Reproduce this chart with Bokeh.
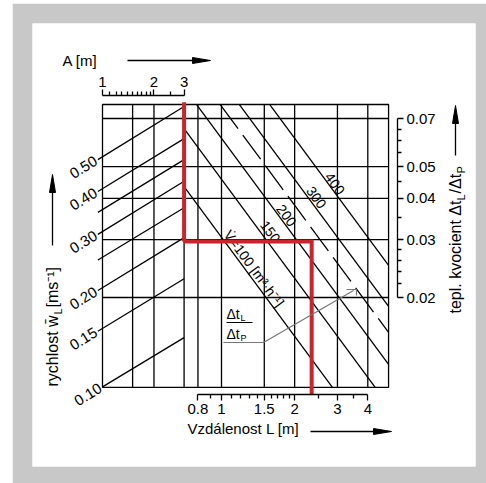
import math
from bokeh.plotting import figure
from bokeh.models import (Range1d, LogScale, LogAxis, FixedTicker,
                          CustomJSTickFormatter)
from bokeh.embed import file_html
from bokeh.resources import INLINE
from bokeh.core.properties import value

# ---------------- data ----------------
A_ticks = [1, 2, 3]
A_minor = [1.1, 1.2, 1.3, 1.4, 1.5, 1.6, 1.7, 1.8, 1.9, 2.5]
L_ticks = [0.8, 1, 1.5, 2, 3, 4]
L_minor = [0.9, 1.1, 1.2, 1.3, 1.4, 1.6, 1.7, 1.8, 1.9, 2.5, 3.5]
ratio_ticks = [0.02, 0.03, 0.04, 0.05, 0.07]
ratio_minor = [0.022, 0.024, 0.026, 0.028, 0.035, 0.045, 0.055, 0.06, 0.065]

A_grid = [1.5, 2, 3]
L_grid = [0.8, 1, 1.5, 2, 3, 4]
ratio_grid = [0.02, 0.03, 0.04, 0.05, 0.07]
box_A_left = 1.0
box_L_right = 4.87
box_ratio_bottom = 0.01066
box_ratio_top = 0.0772

# velocity lines w_L [m/s] (left panel): A from start to 3, ratio at both ends
w_labels = ["0.10", "0.15", "0.20", "", "0.30", "", "0.40", "0.50"]
w_A_start = [1.0, 0.94, 0.94, 0.94, 0.94, 0.94, 0.94, 0.94]
w_R_start = [0.0107, 0.0158, 0.0210, 0.0260, 0.0311, 0.0363, 0.0420, 0.0525]
w_A_end = [3, 3, 3, 3, 3, 3, 3, 3]
w_R_end = [0.0151, 0.0228, 0.0304, 0.0375, 0.0451, 0.0525, 0.0608, 0.0761]

# flow lines V [m3/h] (right panel), end points in L / ratio
V_vals = [100, 150, 200, 300, 400]
V_L0 = [0.704, 0.704, 0.790, 1.185, 1.580]
V_R0 = [0.0433, 0.0650, 0.0772, 0.0772, 0.0772]
V_L1 = [2.861, 4.29, 4.87, 4.87, 4.87]
V_R1 = [0.01066, 0.01066, 0.01253, 0.01879, 0.02505]
V_text = ["V\u0307=100 [m\u00b3\u00b7h\u207b\u00b9]", "150", "200", "300", "400"]
V_lab_L = [1.361, 1.590, 1.851, 2.459, 2.93]
V_lab_R = [0.0245, 0.0317, 0.0355, 0.0403, 0.0444]
# intermediate (dashed) flow line
Vd_vals = [250]
Vd_L0 = [0.988]
Vd_R0 = [0.0772]
Vd_L1 = [4.87]
Vd_R1 = [0.01566]

# worked example (red)
ex_A = 3
ex_ratio = 0.0296
ex_L = 2.35
ex_ratio_top = 0.0784
ex_ratio_bottom = 0.0101

# ---------------- layout calibration (page pixels) ----------------
def Lpx(x):
    return 10 ** ((x - 221) / 243)

def Apx(x):
    return 10 ** ((x - 102) / 171)

def Rpx(y):
    return 0.02 * 10 ** ((297 - y) / 329)

def L_of_A(a):
    return Lpx(102 + 171 * math.log10(a))

FONT = value("Liberation Sans")
RED = "#c9252c"

p = figure(width=474, height=480, x_axis_type="log", y_axis_type="log",
           x_range=Range1d(Lpx(32), Lpx(475)), y_range=Range1d(Rpx(466), Rpx(23)),
           x_axis_location=None, y_axis_location=None,
           toolbar_location=None, output_backend="svg",
           min_border_left=20, min_border_right=11, min_border_top=20, min_border_bottom=17)
p.margin = (3, 0, 0, 12)
p.extra_x_ranges = {"A": Range1d(Apx(32), Apx(475))}
p.extra_x_scales = {"A": LogScale()}
p.background_fill_color = "white"
p.border_fill_color = "#c8c8c8"
p.outline_line_color = None
p.xgrid.visible = False
p.ygrid.visible = False

LW = 1.3
# box + grid
p.quad(left=[L_of_A(box_A_left)], right=[box_L_right], bottom=[box_ratio_bottom],
       top=[box_ratio_top], fill_color=None, line_color="black", line_width=LW)
p.segment(x0=[L_of_A(box_A_left)] * len(ratio_grid), x1=[box_L_right] * len(ratio_grid),
          y0=ratio_grid, y1=ratio_grid, line_color="black", line_width=LW)
p.segment(x0=A_grid, x1=A_grid, y0=[box_ratio_bottom] * len(A_grid),
          y1=[box_ratio_top] * len(A_grid), line_color="black", line_width=LW,
          x_range_name="A")
p.segment(x0=L_grid, x1=L_grid, y0=[box_ratio_bottom] * len(L_grid),
          y1=[box_ratio_top] * len(L_grid), line_color="black", line_width=LW)

# velocity lines
p.segment(x0=w_A_start, y0=w_R_start, x1=w_A_end, y1=w_R_end, line_color="black",
          line_width=LW, x_range_name="A")
p.text(x=w_A_start, y=w_R_start, text=w_labels, angle=0.555, text_align="right",
       text_baseline="middle", x_offset=-2, text_font=FONT, text_font_size="15px",
       text_color="black", x_range_name="A")

# flow lines
p.segment(x0=V_L0, y0=V_R0, x1=V_L1, y1=V_R1, line_color="black", line_width=LW)
p.segment(x0=Vd_L0, y0=Vd_R0, x1=Vd_L1, y1=Vd_R1, line_color="black", line_width=LW,
          line_dash="30 8")
p.text(x=V_lab_L, y=V_lab_R, text=V_text, angle=-0.935, text_align="center",
       text_baseline="middle", text_font=FONT, text_font_size="14px",
       text_color="black")

# red example path
p.line(x=[ex_A, ex_A], y=[ex_ratio_top, ex_ratio], line_color=RED, line_width=4,
       x_range_name="A")
p.line(x=[L_of_A(ex_A), ex_L, ex_L], y=[ex_ratio, ex_ratio, ex_ratio_bottom],
       line_color=RED, line_width=4, line_join="miter")

# axes
def style(ax, major=6, minor=4):
    ax.axis_line_color = "black"
    ax.axis_line_width = LW
    ax.major_tick_line_color = "black"
    ax.minor_tick_line_color = "black"
    ax.major_tick_line_width = LW
    ax.minor_tick_line_width = LW
    ax.major_tick_in = 0
    ax.major_tick_out = major
    ax.minor_tick_in = 0
    ax.minor_tick_out = minor
    ax.major_label_text_font = "Liberation Sans"
    ax.major_label_text_font_size = "15px"
    ax.major_label_text_color = "black"
    ax.major_label_standoff = 3

axL = LogAxis(ticker=FixedTicker(ticks=L_ticks, minor_ticks=L_minor),
              formatter=CustomJSTickFormatter(code="return String(tick)"),
              fixed_location=Rpx(394), bounds=(L_ticks[0], L_ticks[-1]))
style(axL)
p.add_layout(axL, "below")

axR = LogAxis(ticker=FixedTicker(ticks=ratio_ticks, minor_ticks=ratio_minor),
              formatter=CustomJSTickFormatter(code="return tick.toFixed(2)"),
              fixed_location=Lpx(397), bounds=(ratio_ticks[0], ratio_ticks[-1]))
style(axR)
p.add_layout(axR, "right")

axA = LogAxis(ticker=FixedTicker(ticks=A_ticks, minor_ticks=A_minor),
              formatter=CustomJSTickFormatter(code="return String(tick)"),
              fixed_location=Rpx(95), bounds=(A_ticks[0], A_ticks[-1]),
              x_range_name="A")
style(axA)
p.add_layout(axA, "above")

# titles & arrows
def txt(x, y, s, size="15px", angle=0.0, align="left", color="black"):
    p.text(x=[Lpx(x)], y=[Rpx(y)], text=[s], angle=angle, text_align=align,
           text_baseline="middle", text_font=FONT, text_font_size=size,
           text_color=color)

def arrow(x0, y0, x1, y1, hl=18, hw=6):
    d = math.hypot(x1 - x0, y1 - y0)
    ux, uy = (x1 - x0) / d, (y1 - y0) / d
    bx, by = x1 - ux * hl, y1 - uy * hl
    nx, ny = -uy, ux
    p.line(x=[Lpx(x0), Lpx(bx)], y=[Rpx(y0), Rpx(by)], line_color="black", line_width=LW)
    p.patch(x=[Lpx(x1), Lpx(bx + nx * hw / 2), Lpx(bx - nx * hw / 2)],
            y=[Rpx(y1), Rpx(by + ny * hw / 2), Rpx(by - ny * hw / 2)],
            fill_color="black", line_color="black", line_width=1)

UP = math.pi / 2
txt(62, 60, "A [m]")
arrow(127, 60, 210, 60)
txt(187, 428, "Vzdálenost L [m]")
arrow(310, 431, 391, 431)

# right title (vertical, reading upwards) with subscripts
txt(455, 313, "tepl. kvocient \u0394t", size="16px", angle=UP)
txt(460, 200, "L", size="11px", angle=UP)
txt(455, 193, "/\u0394t", size="16px", angle=UP)
txt(460, 173, "P", size="11px", angle=UP)
arrow(455, 155, 455, 105)

# left title (vertical) with subscript
txt(52, 386, "rychlost w\u0304", size="16px", angle=UP)
txt(57, 314, "L", size="11px", angle=UP)
txt(52, 307, "[ms\u207b\u00b9]", size="16px", angle=UP)
arrow(52, 245, 52, 174)

# fraction label with leader
txt(226, 313, "\u0394t", size="14px")
txt(240, 317, "L", size="9px")
txt(226, 333, "\u0394t", size="14px")
txt(240, 337, "P", size="9px")
p.line(x=[Lpx(226), Lpx(252)], y=[Rpx(322), Rpx(322)], line_color="black", line_width=1.2)
p.line(x=[Lpx(223), Lpx(263), Lpx(353)], y=[Rpx(342), Rpx(342), Rpx(290)],
       line_color="#777777", line_width=1.2)
p.line(x=[Lpx(346), Lpx(356), Lpx(356)], y=[Rpx(289), Rpx(289), Rpx(295)],
       line_color="#777777", line_width=1.2)

open("out.html", "w").write(file_html(p, INLINE))
